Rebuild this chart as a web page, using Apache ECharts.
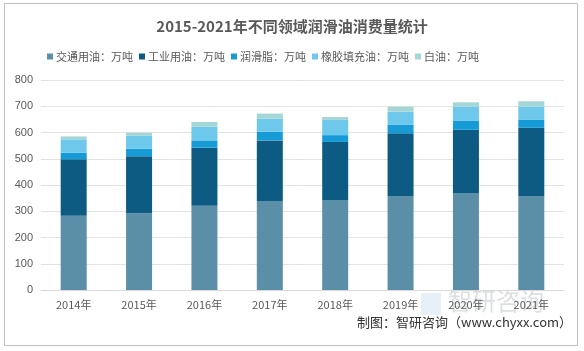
<!DOCTYPE html>
<html><head><meta charset="utf-8">
<script src="https://cdn.jsdelivr.net/npm/echarts@6/dist/echarts.min.js"></script>
<style>html,body{margin:0;padding:0;background:#fff;}#c{width:584px;height:351px;}</style>
</head><body><div id="c"></div>
<script>
var categories = ['2014年','2015年','2016年','2017年','2018年','2019年','2020年','2021年'];
var seriesNames = ['交通用油：万吨','工业用油：万吨','润滑脂：万吨','橡胶填充油：万吨','白油：万吨'];
var transport = [283, 292, 321, 339, 343, 358, 368, 358];
var industrial = [215, 218, 221, 231, 221, 239, 242, 260];
var grease = [25, 28, 28, 33, 26, 32, 34, 30];
var rubber = [51, 50, 52, 50, 58, 50, 54, 50];
var whiteOil = [11, 11, 18, 19, 11, 19, 17, 21];
var yTicks = [0, 100, 200, 300, 400, 500, 600, 700, 800];
var colors = ['#5b8fa8', '#0d5b82', '#179bd7', '#6ec8ec', '#a3d6d4'];

var dataSets = [transport, industrial, grease, rubber, whiteOil];
var chart = echarts.init(document.getElementById('c'));
chart.setOption({
  animation: false,
  color: colors,
  title: {
    text: '2015-2021年不同领域润滑油消费量统计',
    left: 'center', top: 14,
    textStyle: {fontSize: 15, fontWeight: 'bold', color: '#595959', fontFamily: 'Noto Sans CJK SC'}
  },
  legend: {
    top: 46, left: 42, itemWidth: 6, itemHeight: 6, itemGap: 6, icon: 'rect',
    textStyle: {fontSize: 11, color: '#595959', fontFamily: 'Noto Sans CJK SC', padding: [0, 0, 0, -2]},
    data: seriesNames
  },
  grid: {left: 41, right: 20, top: 80, bottom: 61, containLabel: false},
  xAxis: {
    type: 'category', data: categories,
    axisLine: {lineStyle: {color: '#d9d9d9'}},
    axisTick: {show: false},
    axisLabel: {color: '#595959', fontSize: 11, margin: 9, fontFamily: 'Noto Sans CJK SC'}
  },
  yAxis: {
    type: 'value', min: yTicks[0], max: yTicks[yTicks.length-1], interval: 100,
    axisLine: {show: false}, axisTick: {show: false},
    splitLine: {lineStyle: {color: '#e3e3e3'}},
    axisLabel: {color: '#595959', fontSize: 11, margin: 8}
  },
  series: dataSets.map(function(d, i){
    return {name: seriesNames[i], type: 'bar', stack: 'total', data: d, barWidth: 26};
  }),
  graphic: [
    {type: 'rect', shape: {x: 4.5, y: 3.5, width: 573, height: 342}, style: {fill: 'none', stroke: '#bfbfbf', lineWidth: 1}, z: -1},
    {type: 'text', left: 448, top: 289, style: {text: '智研咨询', fontSize: 24, fill: 'rgba(140,150,160,0.3)', fontFamily: 'Noto Sans CJK SC'}},
    {type: 'rect', shape: {x: 421, y: 293, width: 20, height: 22}, style: {fill: 'rgba(120,170,210,0.18)'}},
    {type: 'text', left: 357, top: 316, style: {text: '制图：智研咨询（www.chyxx.com）', fontSize: 13, fill: '#333', fontFamily: 'Noto Sans CJK SC'}}
  ]
});
</script></body></html>
